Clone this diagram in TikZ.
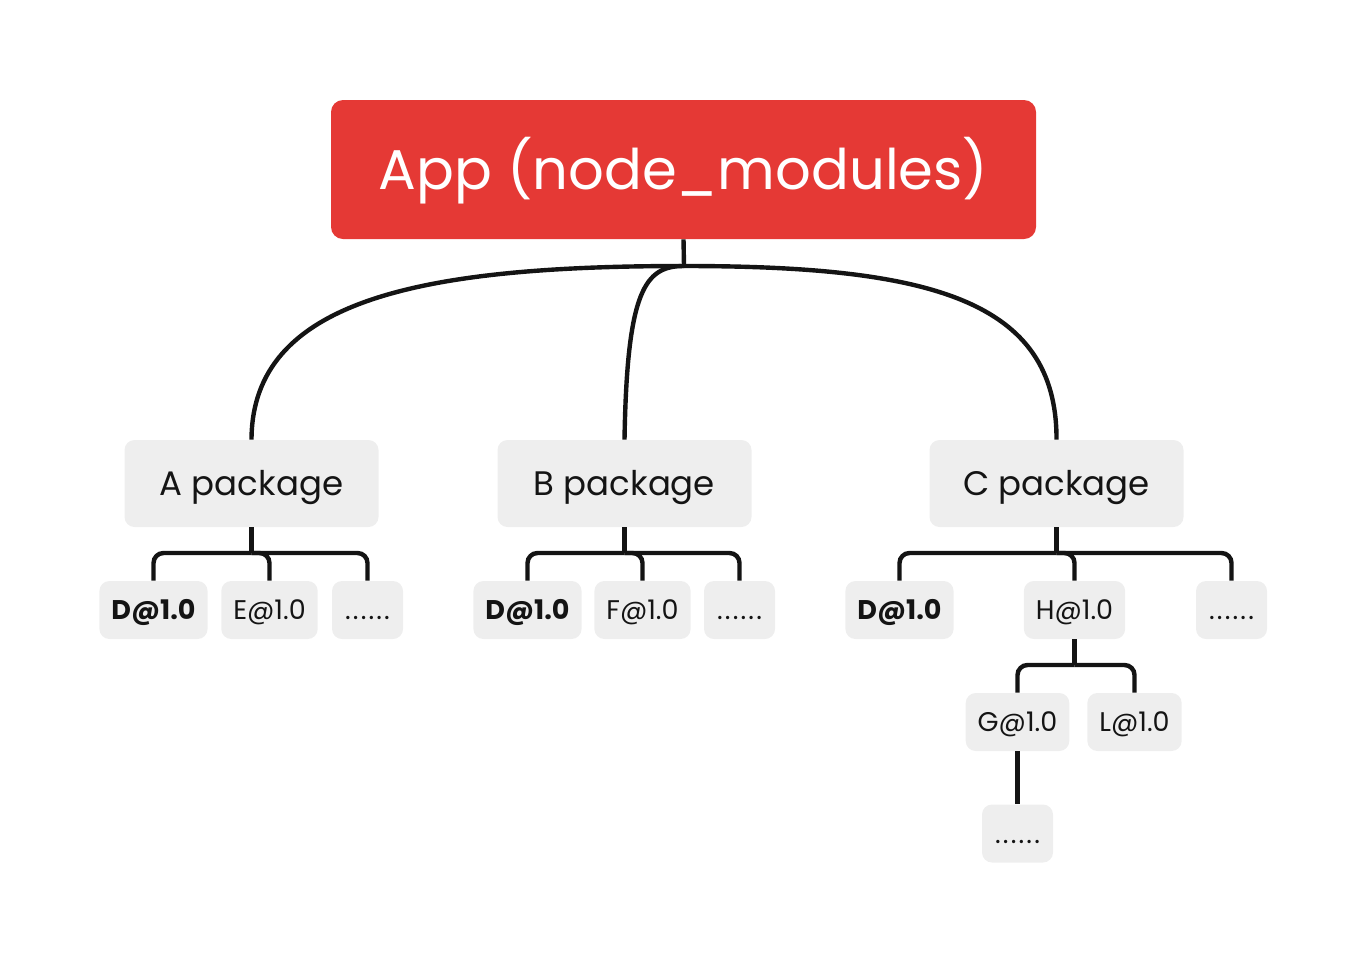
\documentclass[tikz,border=0pt]{standalone}
\usepackage{fontspec}
\setmainfont{Poppins}
\usetikzlibrary{positioning}

\definecolor{appred}{RGB}{229,57,53}
\definecolor{boxgray}{RGB}{238,238,238}
\definecolor{linkblack}{RGB}{20,20,20}

\begin{document}
\begin{tikzpicture}[x=0.5pt, y=-0.5pt,
  root/.style={fill=appred, rounded corners=6pt, text=white, inner sep=0pt,
    minimum width=352.5pt, minimum height=69.5pt, text height=19.6pt, text depth=0pt,
    font=\fontsize{28}{34}\selectfont},
  pkg/.style={fill=boxgray, rounded corners=5pt, text=linkblack, inner sep=0pt,
    minimum width=127pt, minimum height=43.5pt, text height=11.9pt, text depth=0pt,
    font=\fontsize{17}{21}\selectfont},
  dep/.style={fill=boxgray, rounded corners=5pt, text=linkblack, inner xsep=6pt,
    inner ysep=0pt, minimum height=29pt, text height=9.5pt, text depth=0pt,
    font=\fontsize{13.5}{16}\selectfont},
  more/.style={dep, minimum width=35.5pt, inner xsep=0pt,
    font=\fontsize{13.5}{16}\selectfont\addfontfeature{LetterSpace=8}},
  link/.style={draw=linkblack, line width=2.2pt},
  tee/.style={link, rounded corners=5pt}]

\useasboundingbox (0,0) rectangle (1368,964);

% root and packages
\node[root] (app) at (683.5,169.5) {App (node\_modules)};
\node[pkg] (A) at (251.5,483.5) {A package};
\node[pkg] (B) at (624.5,483.5) {B package};
\node[pkg] (C) at (1056.5,483.5) {C package};

% dependencies
\node[dep] (aD) at (153.5,610) {\textbf{D@1.0}};
\node[dep] (aE) at (269.5,610) {E@1.0};
\node[more] (aX) at (367.5,610) {......};

\node[dep] (bD) at (527.5,610) {\textbf{D@1.0}};
\node[dep] (bF) at (642.5,610) {F@1.0};
\node[more] (bX) at (739.5,610) {......};

\node[dep] (cD) at (899.5,610) {\textbf{D@1.0}};
\node[dep] (cH) at (1074.5,610) {H@1.0};
\node[more] (cX) at (1231.5,610) {......};

\node[dep] (hG) at (1017.5,722) {G@1.0};
\node[dep] (hL) at (1134.5,722) {L@1.0};
\node[more] (gX) at (1017.5,833.5) {......};

% curves from the root
\coordinate (hub) at (684,266);
\draw[link] (app.south) -- (hub);
\draw[link] (hub) .. controls (420,266) and (252,300) .. (A.north);
\draw[link] (hub) .. controls (645,266) and (627,290) .. (B.north);
\draw[link] (hub) .. controls (930,266) and (1057,300) .. (C.north);

% bars
\coordinate (aJ) at (251.5,553);
\coordinate (bJ) at (624.5,553);
\coordinate (cJ) at (1056.5,553);
\coordinate (hJ) at (1074.5,665);

\draw[link] (A.south) -- (aJ);
\draw[link] (B.south) -- (bJ);
\draw[link] (C.south) -- (cJ);
\draw[link] (cH.south) -- (hJ);

\foreach \j/\n in {aJ/aD, aJ/aE, aJ/aX, bJ/bD, bJ/bF, bJ/bX, cJ/cD, cJ/cH, cJ/cX, hJ/hG, hJ/hL}
  \draw[tee] (\j) -| (\n.north);

\draw[link] (hG.south) -- (gX.north);

\end{tikzpicture}
\end{document}
